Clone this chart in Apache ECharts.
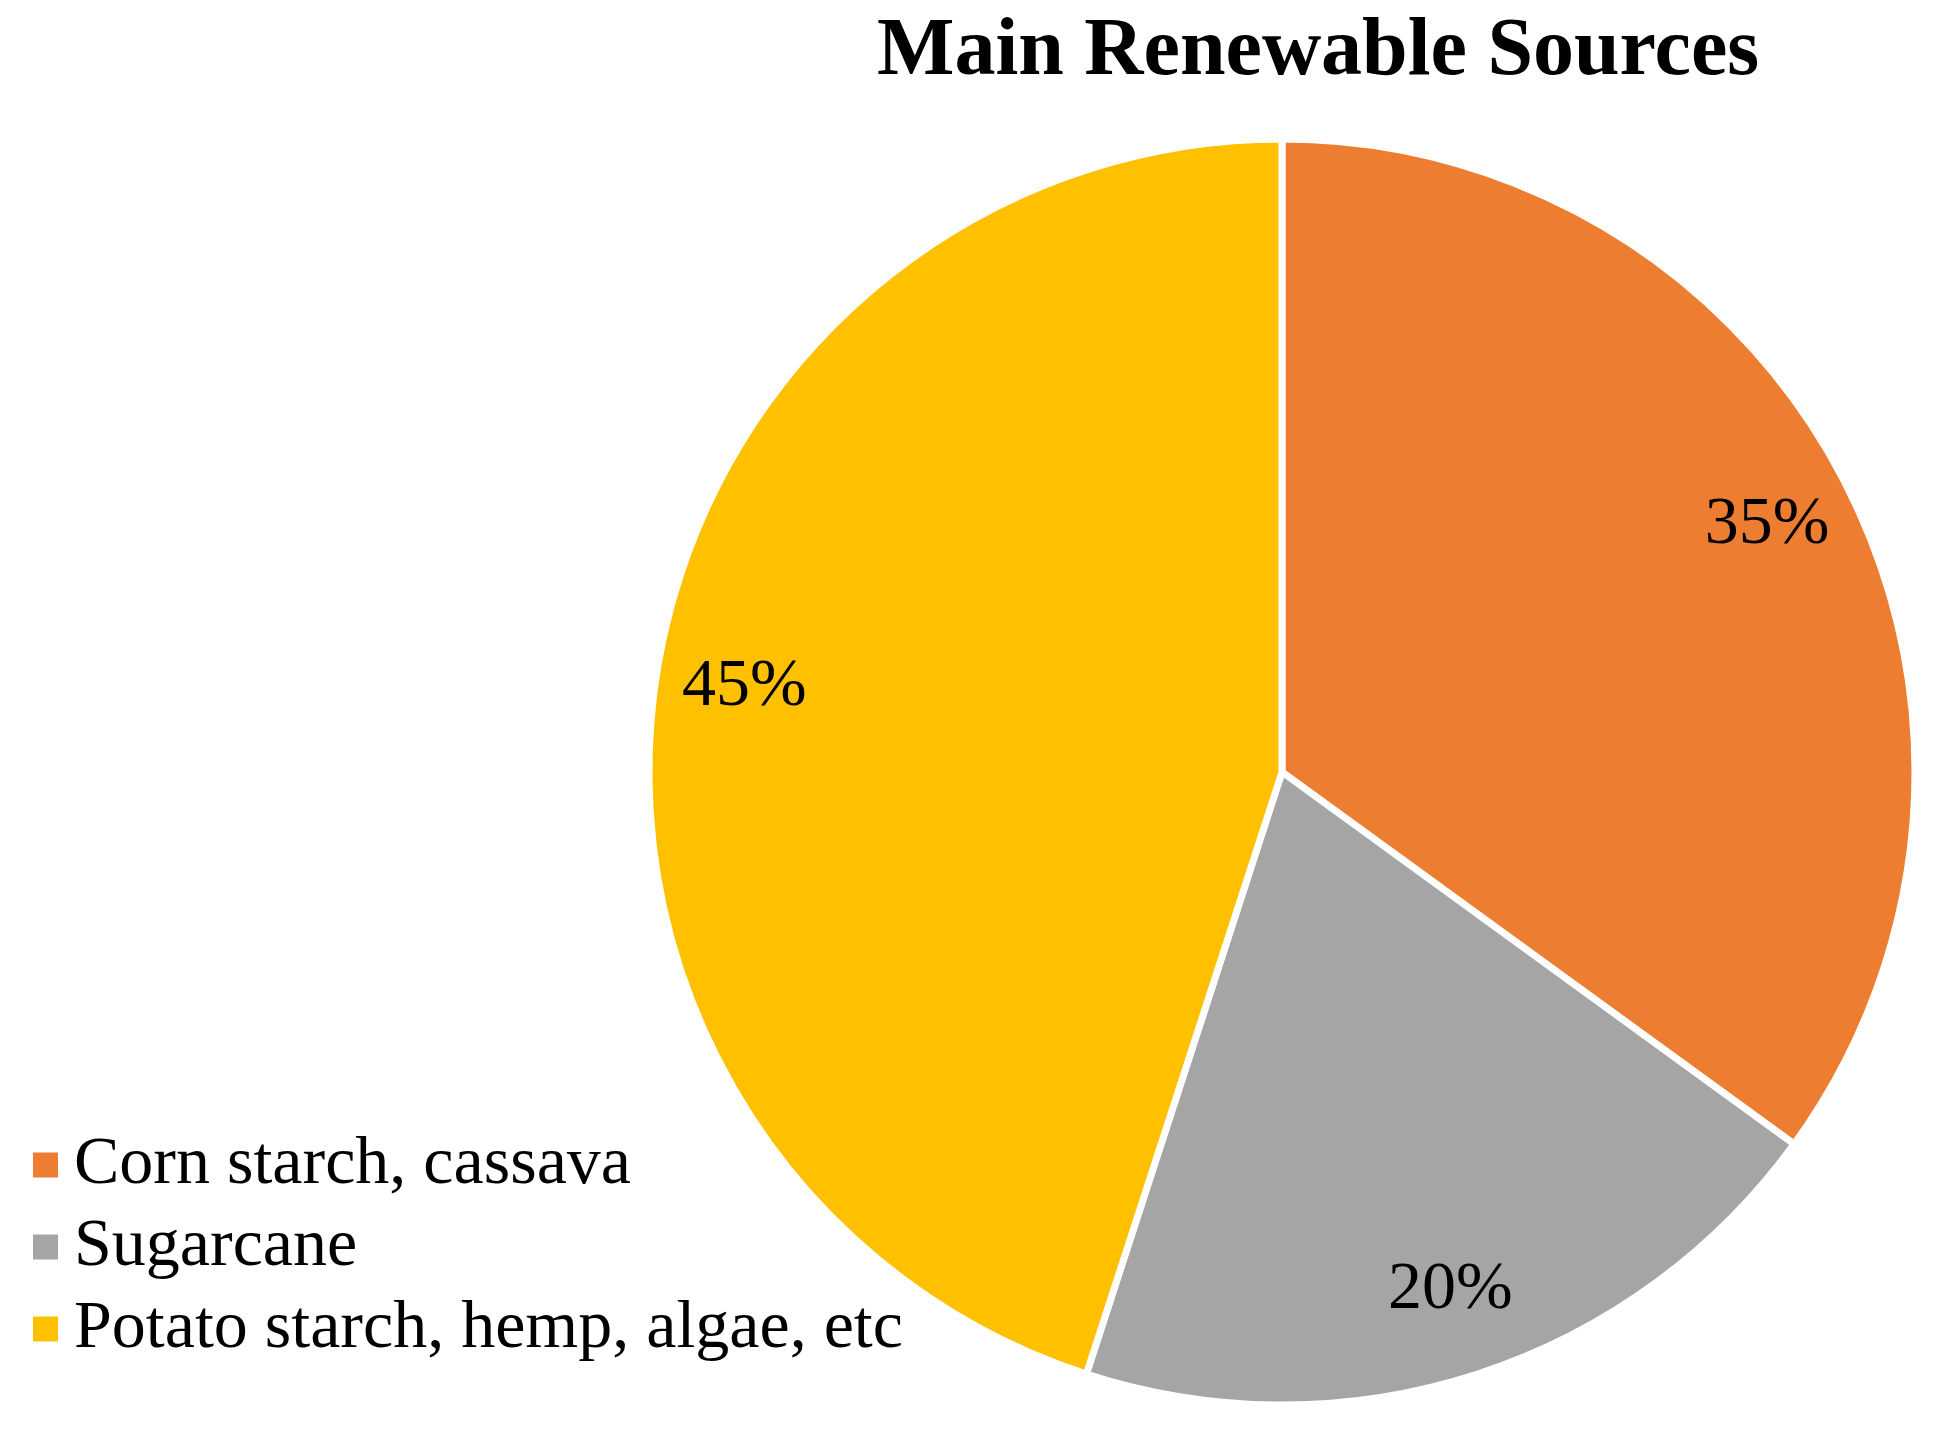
<!DOCTYPE html>
<html>
<head>
<meta charset="utf-8">
<script src="https://cdn.jsdelivr.net/npm/echarts@6/dist/echarts.min.js"></script>
<style>html,body{margin:0;padding:0;background:#fff}#c{width:1946px;height:1448px}</style>
</head>
<body>
<div id="c"></div>
<script>
const categories = ["Corn starch, cassava", "Sugarcane", "Potato starch, hemp, algae, etc"];
const values = [35, 20, 45];
const colors = ["#ED7D31", "#A5A5A5", "#FFC000"];
const titleText = "Main Renewable Sources";

const FONT = "'Liberation Serif', 'Times New Roman', serif";
const data = categories.map((n, i) => ({ name: n, value: values[i] }));
const chart = echarts.init(document.getElementById('c'));
chart.setOption({
  animation: false,
  backgroundColor: '#fff',
  color: colors,
  title: {
    text: titleText,
    left: 877, top: 12, padding: 0,
    textStyle: { fontFamily: FONT, fontWeight: 'bold', fontSize: 82, color: '#000', lineHeight: 82 }
  },
  legend: {
    orient: 'vertical', left: 31, top: 1131, padding: 0,
    icon: 'rect', itemWidth: 27, itemHeight: 27, itemGap: 14,
    data: categories,
    textStyle: { fontFamily: FONT, fontSize: 68, color: '#000', lineHeight: 68, padding: [0,0,0,10] }
  },
  series: [
    {
      type: 'pie', center: [1282, 772], radius: [0, 633],
      startAngle: 90, clockwise: true,
      itemStyle: { borderColor: '#fff', borderWidth: 7 },
      label: { show: false }, labelLine: { show: false },
      emphasis: { disabled: true },
      data: data
    },
    {
      type: 'pie', center: [1282, 772], radius: [450, 633],
      startAngle: 90, clockwise: true, silent: true,
      itemStyle: { color: 'rgba(0,0,0,0)', borderWidth: 0 },
      label: { show: true, position: 'inside', formatter: p => p.value + '%', fontFamily: FONT, fontSize: 68, color: '#000' },
      labelLine: { show: false },
      emphasis: { disabled: true },
      data: data
    }
  ]
});
</script>
</body>
</html>
